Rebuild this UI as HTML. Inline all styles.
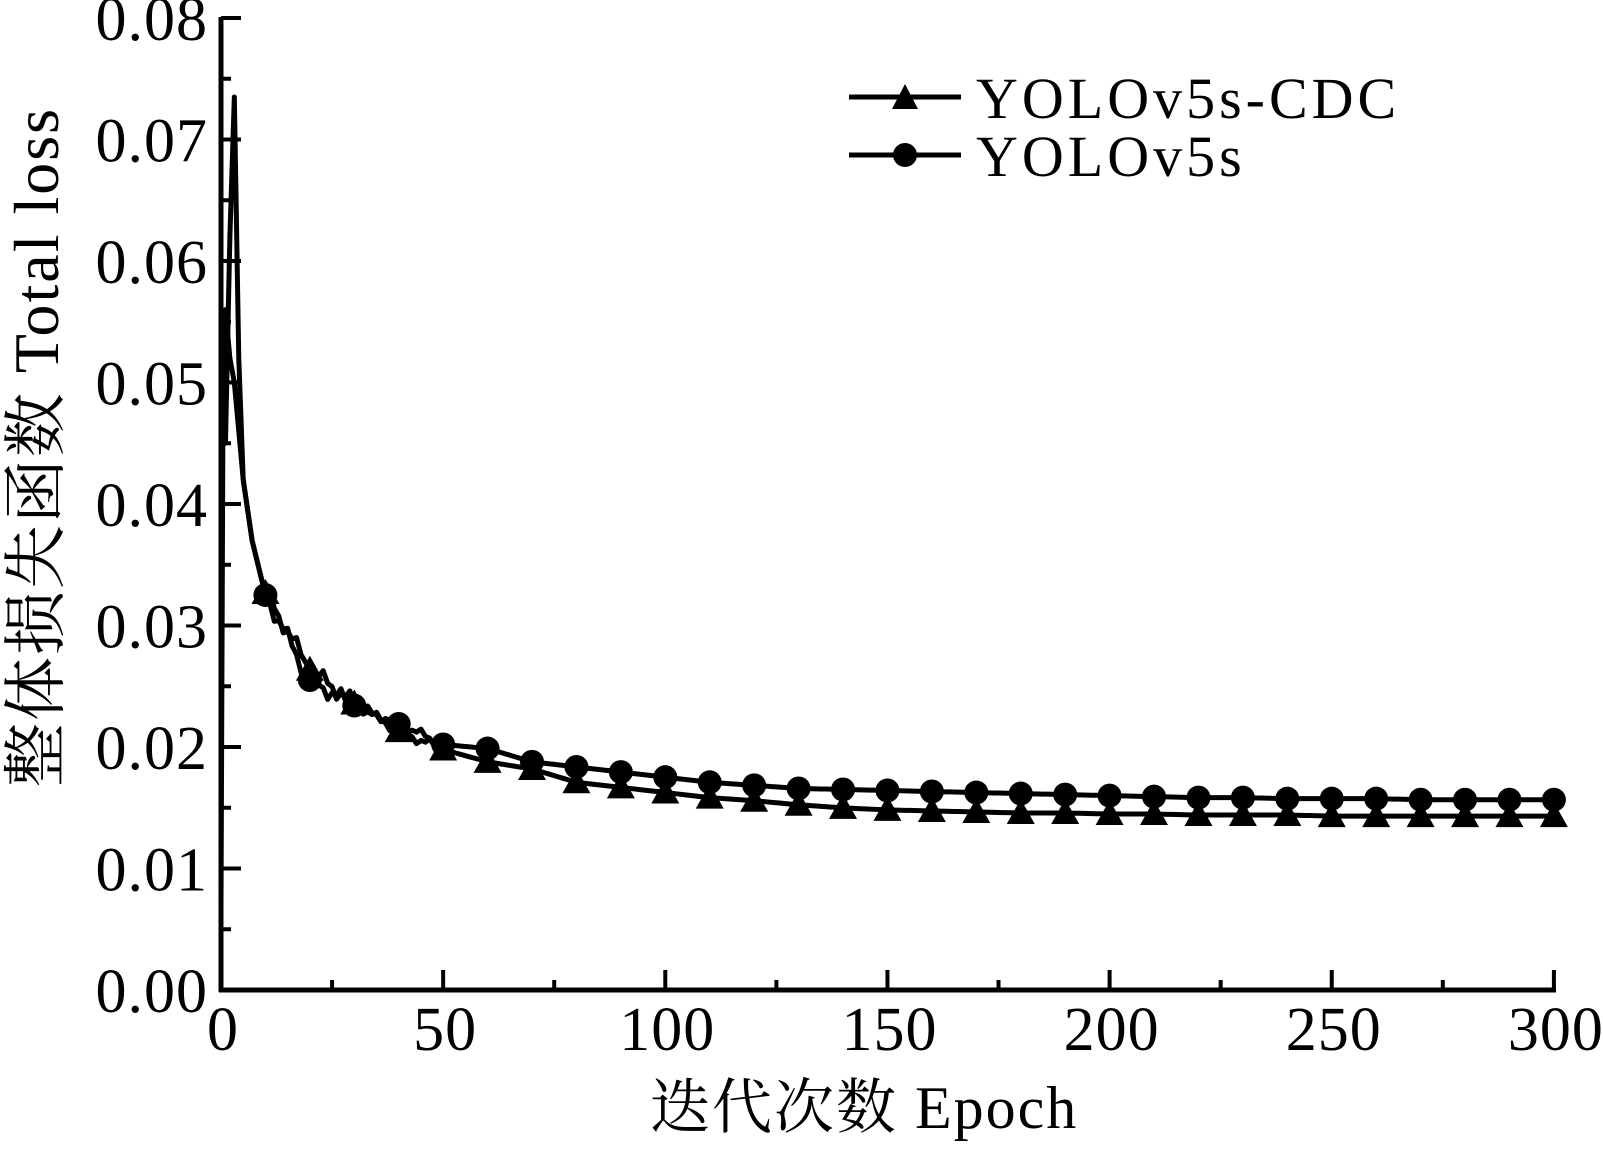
<!DOCTYPE html>
<html><head><meta charset="utf-8"><style>
html,body{margin:0;padding:0;background:#fff;}
svg text{font-family:"Liberation Serif","Noto Serif CJK SC",serif;fill:#000;}
</style></head><body>
<svg id="s" width="1603" height="1144" viewBox="0 0 1603 1144" xmlns="http://www.w3.org/2000/svg">
<g id="g"></g>
<text x="650" y="1128" font-size="60" letter-spacing="2">迭代次数 Epoch</text>
<text transform="translate(58,447) rotate(-90)" text-anchor="middle" font-size="64" letter-spacing="2">整体损失函数 Total loss</text>
<line x1="849" y1="97" x2="961" y2="97" stroke="#000" stroke-width="5"/>
<polygon points="892,109 905,84 918,109" fill="#000"/>
<text x="976" y="118" font-size="58" letter-spacing="4">YOLOv5s-CDC</text>
<line x1="849" y1="155" x2="961" y2="155" stroke="#000" stroke-width="5"/>
<circle cx="905" cy="155" r="12" fill="#000"/>
<text x="976" y="176" font-size="58" letter-spacing="4">YOLOv5s</text>
</svg>
<script>
var NS="http://www.w3.org/2000/svg",g=document.getElementById("g");
function X(e){return 221+e*4.443}
function Y(v){return 990-v*12150}
function el(t,a){var e=document.createElementNS(NS,t);for(var k in a)e.setAttribute(k,a[k]);g.appendChild(e);return e}
function D(d){return (968-d)/118.75*0.01}
el("line",{x1:221,y1:17,x2:221,y2:992,stroke:"#000","stroke-width":5});
el("line",{x1:219,y1:990,x2:1556,y2:990,stroke:"#000","stroke-width":5});
for(var i=0;i<=16;i++){var v=i*0.005,y=Y(v),maj=i%2==0;
 el("line",{x1:221,y1:y,x2:maj?241:231,y2:y,stroke:"#000","stroke-width":4});
 if(maj){var t=el("text",{x:208,y:y+22,"text-anchor":"end","font-size":62,"letter-spacing":1});t.textContent=(v).toFixed(2);}
}
for(var e=0;e<=300;e+=25){var x=X(e),maj=e%50==0;
 el("line",{x1:x,y1:990,x2:x,y2:maj?970:980,stroke:"#000","stroke-width":4});
 if(maj){var t=el("text",{x:x+2,y:1050,"text-anchor":"middle","font-size":62,"letter-spacing":1});t.textContent=e;}
}
var circ={10:582,20:665,30:690,40:708,50:728,60:732,70:745,80:750,90:755,100:760,110:765,120:768,130:771,140:772,150:773,160:774,170:775,180:776,190:777,200:778,210:779,220:780,230:780,240:781,250:781,260:781,270:782,280:782,290:782,300:782};
var tri={10:580,20:655,30:688,40:715,50:733,60:745,70:752,80:765,90:770,100:775,110:780,120:783,130:787,140:790,150:792,160:793,170:794,180:795,190:795,200:796,210:796,220:797,230:797,240:797,250:798,260:798,270:798,280:798,290:798,300:798};
function build(marks,early,ph){var pts=early.slice();
 for(var e=10;e<=300;e++){var a=Math.floor(e/10)*10,b=a+10,v;
  if(e%10==0)v=marks[e];else{var f=(e-a)/10;v=marks[a]+(marks[b]-marks[a])*f;}
  if(e<50&&e%10!=0&&(e+ph)%3==0)v+=((e%2)?-1:1)*(e<30?9:5);
  pts.push([e,D(v)]);}
 return pts;}
var cp=build(circ,[[0,0.0555],[0.5,0.051],[1,0.056],[2,0.052],[3,0.05],[4,0.046],[5,0.042],[7,0.037],[9,0.034]],0);
var tp=build(tri,[[0,0.007],[0.5,0.053],[1,0.045],[2,0.062],[3,0.0735],[4,0.052],[5,0.042],[7,0.037],[9,0.034]],1);
function line(p){el("polyline",{points:p.map(function(q){return X(q[0])+","+Y(q[1])}).join(" "),fill:"none",stroke:"#000","stroke-width":5,"stroke-linejoin":"round"});}
line(cp);line(tp);
for(var e=10;e<=300;e+=10){var x=X(e),y=Y(D(circ[e]));el("circle",{cx:x,cy:y,r:12,fill:"#000"});
 var y2=Y(D(tri[e]));el("polygon",{points:(x-14)+","+(y2+11)+" "+x+","+(y2-14)+" "+(x+14)+","+(y2+11),fill:"#000"});}
</script>
</body></html>
